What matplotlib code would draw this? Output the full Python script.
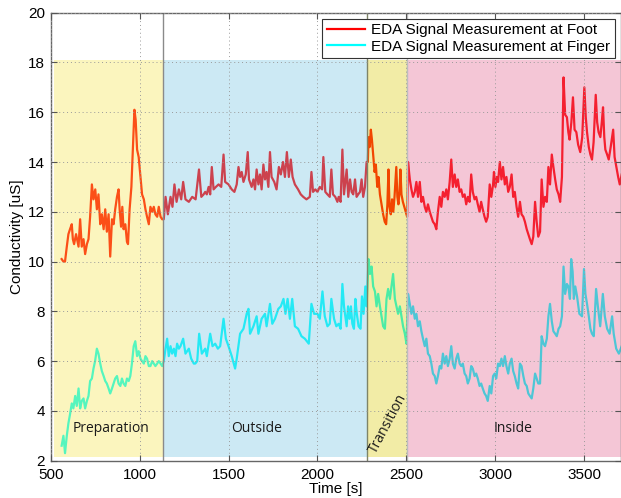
import matplotlib
matplotlib.use("Agg")
import matplotlib.pyplot as plt

# EDA readings (time in s, conductivity in uS)
foot_t = [562, 572, 581, 591, 600, 609, 619, 625, 632, 643, 657, 666, 675, 685, 694, 704, 713, 722, 732, 741,
          751, 760, 769, 779, 788, 798, 807, 816, 826, 835, 845, 854, 863, 873, 882, 888, 896, 903, 910, 920,
          929, 935, 944, 954, 963, 971, 978, 986, 995, 1005, 1014, 1024, 1033, 1042, 1052, 1061, 1071, 1080, 1089, 1099,
          1108, 1118, 1127, 1136, 1146, 1159, 1174, 1185, 1196, 1208, 1221, 1234, 1245, 1258, 1277, 1296, 1315, 1334, 1347, 1360,
          1369, 1378, 1388, 1397, 1406, 1416, 1429, 1444, 1459, 1472, 1481, 1500, 1518, 1533, 1546, 1556, 1565, 1574, 1584, 1597,
          1608, 1615, 1630, 1640, 1649, 1658, 1668, 1677, 1686, 1696, 1705, 1714, 1724, 1733, 1742, 1757, 1770, 1783, 1794, 1806,
          1817, 1828, 1839, 1850, 1860, 1873, 1891, 1906, 1920, 1938, 1957, 1966, 1975, 1988, 2000, 2013, 2026, 2033, 2044, 2056,
          2069, 2078, 2087, 2100, 2112, 2119, 2130, 2140, 2149, 2164, 2173, 2183, 2192, 2201, 2211, 2220, 2229, 2239, 2248, 2257,
          2267, 2276, 2283, 2287, 2293, 2300, 2306, 2313, 2321, 2328, 2336, 2343, 2351, 2360, 2369, 2378, 2386, 2393, 2399, 2405,
          2412, 2419, 2426, 2433, 2443, 2449, 2455, 2461, 2466, 2472, 2480, 2488, 2496, 2504, 2509, 2519, 2528, 2537, 2547, 2556,
          2565, 2575, 2584, 2593, 2603, 2612, 2621, 2631, 2640, 2649, 2659, 2668, 2677, 2687, 2696, 2705, 2715, 2724, 2733, 2743,
          2752, 2761, 2771, 2780, 2789, 2799, 2808, 2817, 2827, 2836, 2845, 2855, 2864, 2873, 2883, 2892, 2901, 2911, 2920, 2929,
          2939, 2948, 2957, 2968, 2977, 2987, 2992, 3000, 3008, 3015, 3025, 3034, 3043, 3053, 3062, 3072, 3081, 3091, 3100, 3109,
          3119, 3128, 3138, 3147, 3157, 3166, 3176, 3185, 3194, 3204, 3213, 3223, 3232, 3241, 3251, 3260, 3270, 3279, 3289, 3298,
          3307, 3317, 3326, 3336, 3345, 3355, 3364, 3374, 3383, 3392, 3402, 3410, 3417, 3427, 3436, 3445, 3455, 3465, 3477, 3488,
          3500, 3508, 3515, 3525, 3534, 3543, 3552, 3564, 3572, 3580, 3590, 3598, 3605, 3612, 3618, 3628, 3637, 3648, 3662, 3670,
          3680, 3690, 3699, 3710]
foot_v = [10.1, 10.0, 10.0, 10.6, 11.1, 11.3, 11.5, 10.9, 10.7, 11.1, 10.6, 11.7, 10.6, 10.9, 10.3, 10.7, 10.9, 11.8, 13.1, 12.5,
          12.9, 12.1, 12.7, 11.5, 11.9, 11.3, 12.1, 11.2, 11.9, 10.2, 11.7, 11.5, 12.1, 12.6, 12.9, 12.1, 11.4, 12.2, 11.3, 11.5,
          10.8, 10.7, 12.1, 13.0, 14.7, 16.1, 15.7, 14.5, 14.2, 13.4, 12.7, 12.5, 12.1, 11.8, 11.5, 12.2, 12.0, 12.2, 11.9, 11.8,
          12.2, 11.8, 11.7, 11.7, 12.6, 11.9, 12.6, 12.2, 13.1, 12.4, 12.9, 12.5, 13.2, 12.5, 12.4, 12.6, 12.5, 13.7, 12.6, 12.7,
          12.8, 12.7, 13.0, 12.7, 13.8, 12.9, 13.0, 13.1, 13.0, 14.3, 13.2, 13.1, 12.9, 12.8, 13.1, 13.8, 13.4, 13.6, 13.2, 13.5,
          14.4, 13.3, 13.0, 13.3, 12.9, 13.7, 13.1, 13.5, 12.9, 13.9, 13.3, 13.6, 13.0, 14.4, 13.4, 13.2, 12.9, 13.8, 13.5, 14.0,
          13.4, 14.4, 13.4, 14.1, 13.4, 13.1, 12.9, 12.7, 12.6, 12.5, 12.6, 13.6, 12.8, 12.9, 12.8, 13.0, 12.9, 14.2, 12.8, 12.7,
          12.6, 13.7, 12.7, 12.6, 12.4, 12.6, 12.4, 14.5, 12.7, 13.7, 12.6, 13.3, 12.8, 12.7, 13.3, 12.6, 12.7, 12.8, 13.3, 12.6,
          13.0, 14.0, 14.0, 15.0, 14.6, 15.3, 14.9, 14.3, 13.6, 13.9, 13.0, 13.4, 12.7, 12.3, 11.9, 11.6, 11.5, 12.3, 13.7, 12.2,
          11.9, 12.5, 12.0, 12.6, 13.8, 12.6, 12.3, 12.8, 13.7, 12.7, 12.4, 12.2, 12.0, 11.8, 14.0, 13.3, 12.9, 12.6, 12.8, 13.2,
          12.6, 13.2, 12.4, 12.6, 12.2, 12.0, 12.3, 12.0, 11.8, 11.6, 11.5, 11.3, 12.0, 12.6, 12.2, 12.8, 12.6, 12.9, 12.5, 13.2,
          14.1, 13.0, 13.5, 13.0, 13.3, 12.8, 12.9, 12.6, 12.7, 12.3, 12.6, 12.4, 13.5, 12.8, 12.5, 12.6, 12.3, 12.0, 12.4, 12.1,
          11.8, 11.6, 11.8, 13.1, 12.6, 13.1, 13.6, 13.0, 13.4, 13.2, 14.0, 13.3, 13.8, 13.1, 13.4, 12.8, 13.0, 13.5, 12.6, 12.8,
          12.2, 11.8, 12.4, 11.9, 11.8, 11.6, 11.3, 11.1, 10.9, 10.7, 11.0, 12.4, 11.6, 11.0, 11.2, 13.3, 12.2, 12.6, 12.4, 13.8,
          13.1, 14.3, 13.8, 13.3, 12.9, 12.7, 12.4, 13.4, 17.4, 15.9, 15.8, 15.2, 14.9, 15.6, 16.6, 15.3, 15.2, 14.7, 14.4, 15.0,
          17.0, 15.8, 15.2, 14.6, 14.3, 14.1, 14.8, 16.7, 15.6, 15.2, 15.0, 15.6, 16.2, 15.0, 14.5, 14.3, 14.1, 14.6, 15.3, 14.2,
          13.8, 13.4, 13.1, 13.5]

finger_t = [562, 572, 581, 591, 600, 610, 619, 628, 638, 647, 657, 666, 675, 685, 694, 704, 713, 722, 732, 741,
            750, 760, 769, 779, 788, 798, 807, 816, 826, 835, 845, 854, 863, 873, 882, 892, 901, 910, 920, 929,
            939, 948, 957, 967, 976, 986, 995, 1005, 1014, 1024, 1033, 1042, 1052, 1061, 1071, 1080, 1089, 1099, 1108, 1118,
            1127, 1136, 1146, 1155, 1164, 1174, 1183, 1193, 1202, 1211, 1221, 1230, 1245, 1258, 1277, 1290, 1305, 1313, 1324, 1335,
            1350, 1369, 1378, 1397, 1410, 1425, 1440, 1453, 1472, 1485, 1500, 1518, 1537, 1546, 1565, 1584, 1602, 1612, 1621, 1640,
            1658, 1668, 1686, 1705, 1714, 1733, 1746, 1761, 1780, 1794, 1809, 1820, 1832, 1845, 1858, 1873, 1891, 1910, 1929, 1951,
            1966, 1981, 2000, 2013, 2028, 2041, 2056, 2069, 2078, 2093, 2106, 2119, 2130, 2140, 2149, 2164, 2172, 2180, 2188, 2196,
            2205, 2213, 2221, 2231, 2242, 2250, 2259, 2269, 2276, 2287, 2295, 2304, 2313, 2323, 2332, 2341, 2351, 2360, 2369, 2379,
            2388, 2397, 2407, 2416, 2425, 2435, 2444, 2453, 2463, 2472, 2481, 2491, 2500, 2509, 2519, 2528, 2537, 2547, 2556, 2565,
            2575, 2584, 2593, 2603, 2612, 2621, 2631, 2640, 2649, 2659, 2668, 2677, 2687, 2696, 2705, 2715, 2724, 2733, 2743, 2752,
            2761, 2771, 2780, 2789, 2799, 2808, 2817, 2827, 2836, 2845, 2855, 2864, 2873, 2883, 2892, 2901, 2911, 2920, 2929, 2939,
            2948, 2957, 2968, 2977, 2987, 2996, 3005, 3015, 3025, 3034, 3043, 3053, 3062, 3072, 3081, 3091, 3100, 3109, 3119, 3128,
            3138, 3147, 3157, 3166, 3176, 3185, 3194, 3204, 3213, 3223, 3232, 3241, 3251, 3260, 3270, 3279, 3289, 3298, 3307, 3317,
            3326, 3336, 3345, 3355, 3364, 3374, 3383, 3392, 3402, 3410, 3419, 3426, 3434, 3441, 3449, 3459, 3472, 3487, 3498, 3506,
            3515, 3525, 3534, 3543, 3553, 3566, 3576, 3589, 3604, 3615, 3628, 3642, 3656, 3665, 3679, 3694, 3710]
finger_v = [2.6, 3.0, 2.3, 3.0, 3.5, 3.9, 4.3, 4.1, 4.6, 4.2, 4.9, 4.1, 4.4, 4.5, 4.1, 4.4, 4.6, 5.2, 5.3, 5.7,
            6.0, 6.5, 6.3, 5.9, 5.6, 5.4, 5.2, 5.1, 4.9, 4.7, 4.9, 5.1, 5.3, 5.4, 5.1, 5.0, 5.3, 5.1, 5.0, 5.3,
            5.2, 5.4, 5.9, 6.6, 6.8, 6.2, 6.4, 6.1, 6.0, 5.9, 6.2, 6.1, 5.8, 5.8, 6.0, 5.9, 5.8, 5.9, 6.0, 5.9,
            5.8, 6.0, 6.5, 6.9, 6.2, 6.6, 6.3, 6.5, 6.2, 6.7, 6.5, 6.6, 6.9, 6.3, 6.5, 6.1, 5.9, 5.9, 6.0, 7.1,
            6.3, 6.5, 6.2, 7.1, 6.6, 6.7, 6.5, 6.6, 7.7, 6.9, 6.6, 6.2, 5.7, 6.1, 7.1, 7.3, 7.9, 8.1, 7.1, 7.4,
            7.8, 7.1, 7.7, 7.9, 7.4, 8.3, 7.5, 7.7, 8.1, 8.2, 8.5, 7.9, 8.5, 7.7, 8.5, 7.4, 7.3, 7.0, 6.9, 6.7,
            8.3, 7.9, 7.9, 7.7, 8.8, 7.8, 7.4, 7.5, 8.5, 7.7, 7.4, 7.5, 7.3, 9.1, 8.2, 7.4, 8.2, 7.7, 8.2, 7.5,
            7.3, 8.5, 7.9, 7.4, 7.3, 8.6, 7.9, 9.0, 8.2, 10.1, 9.5, 9.8, 9.0, 8.8, 8.2, 8.7, 8.2, 7.8, 7.4, 7.3,
            8.5, 8.9, 8.5, 9.0, 9.5, 8.5, 8.2, 7.9, 8.2, 7.8, 7.4, 7.1, 6.7, 8.7, 8.3, 7.9, 8.2, 7.7, 7.9, 7.4,
            7.6, 7.2, 6.9, 6.6, 6.9, 6.3, 6.2, 5.9, 5.5, 5.4, 5.1, 5.4, 5.8, 5.7, 6.3, 5.9, 6.2, 5.8, 6.1, 6.6,
            5.9, 5.7, 6.1, 6.3, 5.9, 5.8, 5.9, 5.5, 5.4, 5.1, 5.3, 5.8, 5.7, 5.4, 5.5, 5.3, 5.0, 5.1, 4.9, 4.7,
            4.6, 4.4, 5.0, 4.7, 5.4, 5.5, 5.3, 5.9, 5.8, 6.1, 5.8, 6.2, 5.8, 5.5, 5.9, 6.1, 5.6, 5.4, 5.1, 4.9,
            5.9, 5.8, 5.4, 5.1, 5.0, 4.7, 4.6, 4.5, 4.9, 5.5, 5.3, 5.1, 5.1, 7.0, 6.7, 6.6, 6.9, 7.8, 8.3, 7.6,
            7.2, 7.1, 7.0, 7.3, 7.4, 7.8, 9.8, 8.7, 9.1, 9.0, 8.5, 10.1, 9.6, 8.5, 9.0, 8.6, 7.9, 7.8, 9.7, 8.7,
            8.3, 7.8, 7.3, 7.1, 7.0, 8.9, 8.2, 7.4, 8.7, 7.8, 7.3, 7.1, 7.8, 7.1, 6.5, 6.3, 6.6]

# experiment phases
phase_names = ["Preparation", "Outside", "Transition", "Inside"]
phase_start = [521, 1133, 2280, 2502]
phase_end = [1133, 2280, 2502, 3720]
phase_colors = ["#f6e545", "#6dc0e2", "#dac901", "#e25c8a"]

plt.rcParams["font.family"] = ["Liberation Sans", "DejaVu Sans"]

fig = plt.figure(figsize=(6.21, 4.98), dpi=100)
ax = fig.add_axes([0.0815, 0.075, 0.9185, 0.8995])

ax.plot(foot_t, foot_v, color="#ff0000", lw=1.6, zorder=2,
        label="EDA Signal Measurement at Foot")
ax.plot(finger_t, finger_v, color="#00ffff", lw=1.6, zorder=2,
        label="EDA Signal Measurement at Finger")

# translucent phase boxes drawn over the traces (tints them like the original)
for x0, x1, c in zip(phase_start, phase_end, phase_colors):
    ax.fill_between([x0, x1], 2.13, 18.08, color=c, alpha=0.35, lw=0, zorder=2.2)
for x, c in zip(phase_start[1:], ["#8a8a8a", "#7e8468", "#bdbdbd"]):
    ax.axvline(x, color=c, lw=1.0, zorder=2.3)

label_font = dict(family=["Open Sans", "DejaVu Sans"], fontsize=10, color="#1a1a1a", zorder=4)
ax.text(841, 3.3, phase_names[0], ha="center", va="center", **label_font)
ax.text(1655, 3.3, phase_names[1], ha="center", va="center", **label_font)
ax.text(2395, 3.5, phase_names[2], ha="center", va="center", rotation=62, **label_font)
ax.text(3100, 3.3, phase_names[3], ha="center", va="center", **label_font)

ax.set_xlim(500, 3706)
ax.set_ylim(2, 20)
ax.set_xticks(range(500, 3501, 500))
ax.set_yticks(range(2, 21, 2))
ax.set_axisbelow(False)
ax.grid(True, color="#9a9a9a", ls=(0, (1, 3)), lw=0.7)
ax.tick_params(direction="in", top=True, right=True, labelsize=11, length=4,
               color="#555555")
ax.tick_params(axis="x", pad=5)
ax.tick_params(axis="y", pad=4)
for s in ax.spines.values():
    s.set_color("#666666")
    s.set_linewidth(1.0)

ax.set_xlabel("Time [s]", fontsize=11, labelpad=0)
ax.set_ylabel("Conductivity [uS]", fontsize=11, labelpad=3)

leg = ax.legend(loc="upper right", fontsize=11, fancybox=False, framealpha=1,
                edgecolor="#333333", handlelength=2.5, borderpad=0.3,
                labelspacing=0.15, borderaxespad=0.4, handletextpad=0.4)
leg.get_frame().set_linewidth(0.8)
leg.set_zorder(5)

fig.savefig("out.png", dpi=100)
